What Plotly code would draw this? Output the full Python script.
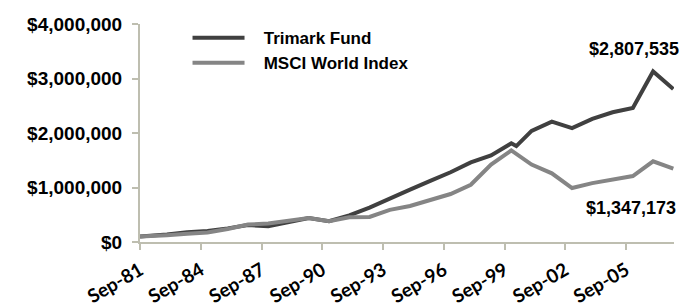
import plotly.graph_objects as go

# ---- data ----
trimark_dates = ["1981-09-01", "1981-12-31", "1982-12-31", "1983-12-31", "1984-12-31",
                 "1985-12-31", "1986-12-31", "1987-12-31", "1988-12-31", "1989-12-31",
                 "1990-12-31", "1991-12-31", "1992-12-31", "1993-12-31", "1994-12-31",
                 "1995-12-31", "1996-12-31", "1997-12-31", "1998-12-31", "1999-12-31",
                 "2000-03-31", "2000-12-31", "2001-12-31", "2002-12-31", "2003-12-31",
                 "2004-12-31", "2005-12-31", "2006-12-31", "2007-12-31"]
trimark_values = [100000, 108000, 140000, 180000, 200000,
                  250000, 310000, 290000, 360000, 440000,
                  380000, 490000, 630000, 800000, 960000,
                  1120000, 1280000, 1460000, 1590000, 1810000,
                  1760000, 2040000, 2210000, 2090000, 2260000,
                  2380000, 2460000, 3130000, 2807535]

msci_dates = ["1981-09-01", "1981-12-31", "1982-12-31", "1983-12-31", "1984-12-31",
              "1985-12-31", "1986-12-31", "1987-12-31", "1988-12-31", "1989-12-31",
              "1990-12-31", "1991-12-31", "1992-12-31", "1993-12-31", "1994-12-31",
              "1995-12-31", "1996-12-31", "1997-12-31", "1998-12-31", "1999-12-31",
              "2000-12-31", "2001-12-31", "2002-12-31", "2003-12-31",
              "2004-12-31", "2005-12-31", "2006-12-31", "2007-12-31"]
msci_values = [100000, 104000, 125000, 150000, 175000,
               240000, 320000, 340000, 390000, 440000,
               380000, 455000, 460000, 590000, 660000,
               770000, 880000, 1050000, 1420000, 1680000,
               1420000, 1260000, 990000, 1080000,
               1150000, 1210000, 1480000, 1347173]

tick_dates = ["1981-09-01", "1984-09-01", "1987-09-01", "1990-09-01", "1993-09-01",
              "1996-09-01", "1999-09-01", "2002-09-01", "2005-09-01"]
tick_labels = ["Sep-81", "Sep-84", "Sep-87", "Sep-90", "Sep-93",
               "Sep-96", "Sep-99", "Sep-02", "Sep-05"]

y_ticks = [0, 1000000, 2000000, 3000000, 4000000]
y_tick_labels = ["${:,}".format(v) for v in y_ticks]

series_names = ["Trimark Fund", "MSCI World Index"]
series_colors = ["#404040", "#858585"]

AXIS_COLOR = "#BEBEB0"
FONT = "Liberation Sans, Arial, sans-serif"
XTICKFONT = "Lato, sans-serif"
PAD = "\u00a0\u00a0\u00a0"

fig = go.Figure()
fig.add_trace(go.Scatter(x=trimark_dates, y=trimark_values, mode="lines",
                         name=PAD + series_names[0],
                         line=dict(color=series_colors[0], width=4)))
fig.add_trace(go.Scatter(x=msci_dates, y=msci_values, mode="lines",
                         name=PAD + series_names[1],
                         line=dict(color=series_colors[1], width=4)))

fig.add_annotation(x=trimark_dates[-1], y=trimark_values[-1], xref="x", yref="y",
                   text="${:,}".format(trimark_values[-1]), showarrow=False,
                   xanchor="right", yanchor="middle", xshift=8, yshift=40,
                   font=dict(family=FONT, size=18, color="#000000", weight="bold"))
fig.add_annotation(x=msci_dates[-1], y=msci_values[-1], xref="x", yref="y",
                   text="${:,}".format(msci_values[-1]), showarrow=False,
                   xanchor="right", yanchor="middle", xshift=5, yshift=-39,
                   font=dict(family=FONT, size=18, color="#000000", weight="bold"))

# page body adds an 8px margin, so the figure is sized to fit the 694x308 window
fig.update_layout(
    width=686, height=300,
    margin=dict(l=132, r=20, t=16, b=66, pad=0, autoexpand=False),
    paper_bgcolor="white", plot_bgcolor="white",
    showlegend=True,
    legend=dict(x=0.089, y=1.018, xanchor="left", yanchor="top",
                bgcolor="rgba(0,0,0,0)", borderwidth=0,
                font=dict(family=FONT, size=17, color="#000000", weight="bold"),
                itemwidth=52, tracegroupgap=0),
    xaxis=dict(type="date", range=["1981-09-01", "2008-01-12"],
               tickmode="array", tickvals=tick_dates, ticktext=tick_labels,
               tickangle=-30, showgrid=False, zeroline=False, automargin=False,
               showline=True, linecolor=AXIS_COLOR, linewidth=2,
               ticks="outside", ticklen=6, tickcolor=AXIS_COLOR, tickwidth=2,
               ticklabelstandoff=2,
               tickfont=dict(family=XTICKFONT, size=19, color="#000000", weight="bold")),
    yaxis=dict(range=[0, 4000000], tickmode="array", tickvals=y_ticks,
               ticktext=y_tick_labels,
               showgrid=False, zeroline=False, automargin=False,
               showline=True, linecolor=AXIS_COLOR, linewidth=2,
               ticks="outside", ticklen=6, tickcolor=AXIS_COLOR, tickwidth=2,
               ticklabelstandoff=6,
               tickfont=dict(family=FONT, size=19, color="#000000", weight="bold")),
)

fig.write_html("out.html")
